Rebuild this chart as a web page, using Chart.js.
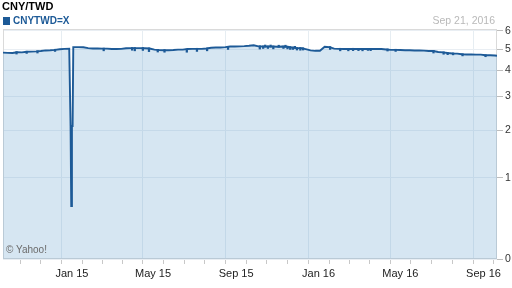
<!DOCTYPE html>
<html><head><meta charset="utf-8">
<script src="https://cdn.jsdelivr.net/npm/chart.js@4/dist/chart.umd.min.js"></script>
<style>
html,body{margin:0;padding:0;background:#fff;}
#wrap{position:relative;width:512px;height:288px;overflow:hidden;font-family:"Liberation Sans",Arial,sans-serif;}
canvas{position:absolute;left:0;top:0;}
.t{position:absolute;white-space:nowrap;line-height:1;}
</style></head><body>
<div id="wrap">
<canvas id="c" width="512" height="288"></canvas>
<div class="t" style="left:2px;top:0.5px;font-size:11px;font-weight:bold;color:#000">CNY/TWD</div>
<div style="position:absolute;left:3px;top:17px;width:7px;height:8px;background:#1d5a97"></div>
<div class="t" style="left:13px;top:15.5px;font-size:10px;font-weight:bold;color:#1d5a97">CNYTWD=X</div>
<div class="t" style="right:17px;top:14.5px;font-size:10.5px;color:#b9b9b9">Sep 21, 2016</div>
<div class="t" style="left:6px;top:245px;font-size:10px;color:#6b6b6b">© Yahoo!</div>
</div>
<script>
// ---------- data ----------
const startDate = '2014-09-21';
const endDate = '2016-09-21';
const dates = [
'2014-09-21','2014-09-28','2014-10-05','2014-10-12','2014-10-19','2014-10-26','2014-11-02','2014-11-09','2014-11-16','2014-11-23','2014-11-30','2014-12-07','2014-12-14','2014-12-21','2014-12-28','2014-12-29','2014-12-30','2014-12-31','2015-01-01','2015-01-02','2015-01-03',
'2015-01-04','2015-01-11','2015-01-18','2015-01-25','2015-02-01','2015-02-08','2015-02-15','2015-02-22','2015-03-01','2015-03-08','2015-03-15','2015-03-22','2015-03-29','2015-04-05','2015-04-12','2015-04-19','2015-04-26','2015-05-03','2015-05-10','2015-05-17','2015-05-24','2015-05-31','2015-06-07','2015-06-14','2015-06-21','2015-06-28','2015-07-05','2015-07-12','2015-07-19','2015-07-26','2015-08-02','2015-08-09','2015-08-16','2015-08-23','2015-08-30','2015-09-06','2015-09-13','2015-09-20','2015-09-27','2015-10-04','2015-10-11','2015-10-18','2015-10-25','2015-11-01','2015-11-08','2015-11-15','2015-11-22','2015-11-29','2015-12-06','2015-12-13','2015-12-20','2015-12-27',
'2016-01-03','2016-01-10','2016-01-17','2016-01-24','2016-01-31','2016-02-07','2016-02-14','2016-02-21','2016-02-28','2016-03-06','2016-03-13','2016-03-20','2016-03-27','2016-04-03','2016-04-10','2016-04-17','2016-04-24','2016-05-01','2016-05-08','2016-05-15','2016-05-22','2016-05-29','2016-06-05','2016-06-12','2016-06-19','2016-06-26','2016-07-03','2016-07-10','2016-07-17','2016-07-24','2016-07-31','2016-08-07','2016-08-14','2016-08-21','2016-08-28','2016-09-04','2016-09-11','2016-09-18','2016-09-21'];
const rates = [
4.82,4.81,4.80,4.84,4.83,4.86,4.87,4.88,4.90,4.93,4.94,4.96,4.99,5.01,5.02,5.02,2.11,0.57,2.11,2.11,5.10,
5.10,5.10,5.09,5.05,5.03,5.03,5.02,5.02,5.00,5.00,5.01,5.04,5.05,5.05,5.05,5.04,5.03,4.97,4.95,4.94,4.94,4.95,4.97,4.97,5.00,5.01,5.01,5.01,5.03,5.07,5.08,5.08,5.10,5.13,5.13,5.14,5.15,5.17,5.20,5.14,5.13,5.13,5.13,5.12,5.13,5.12,5.08,5.05,5.05,5.00,4.93,4.91,
4.91,5.12,5.10,5.02,5.01,5.00,5.00,5.01,5.00,5.00,5.00,5.00,5.01,5.00,4.98,4.96,4.96,4.95,4.94,4.94,4.93,4.93,4.92,4.90,4.90,4.85,4.83,4.80,4.78,4.77,4.74,4.73,4.73,4.72,4.72,4.69,4.69,4.68,4.67];
// single-day spikes off the line (from the line level to the spike tip)
const spikeDates = ['2014-10-11','2014-10-26','2014-11-11','2014-12-07','2015-02-17','2015-03-31','2015-04-04','2015-04-16','2015-04-25','2015-05-08','2015-05-18','2015-06-20','2015-07-05','2015-07-20','2015-08-20','2015-10-06','2015-10-11','2015-10-14','2015-10-18','2015-10-22','2015-10-26','2015-11-03','2015-11-10','2015-11-13','2015-11-16','2015-11-20','2015-11-24','2015-11-27','2015-11-30','2015-12-05','2015-12-09','2016-01-18','2016-02-02','2016-02-14','2016-02-21','2016-02-29','2016-03-06','2016-03-14','2016-03-18','2016-04-12','2016-04-24','2016-06-19','2016-07-04','2016-07-10','2016-07-18','2016-08-01','2016-09-04'];
const spikeFrom = [4.87,4.89,4.91,4.99,5.05,5.08,5.08,5.08,5.06,4.98,4.97,5.00,5.04,5.05,5.14,5.17,5.16,5.10,5.16,5.10,5.16,5.09,5.16,5.10,5.15,5.13,5.11,5.04,5.08,5.08,5.07,5.13,5.04,5.03,5.04,5.03,5.03,5.03,5.03,5.01,4.99,4.93,4.86,4.83,4.81,4.77,4.72];
const spikeTo   = [4.75,4.78,4.80,4.88,4.91,4.94,4.91,4.93,4.87,4.85,4.84,4.84,4.88,4.91,4.98,5.00,5.03,5.21,5.03,5.21,5.01,5.20,5.03,5.20,5.01,4.98,4.98,5.14,4.95,4.94,4.95,4.98,4.91,4.91,4.92,4.92,4.91,4.93,4.92,4.90,4.88,4.80,4.74,4.72,4.71,4.66,4.62];
const yTickValues = [0,1,2,3,4,5,6];
const xLabelDates = ['2015-01-01','2015-05-01','2015-09-01','2016-01-01','2016-05-01','2016-09-01'];
const xLabels = ['Jan 15','May 15','Sep 15','Jan 16','May 16','Sep 16'];

// ---------- helpers ----------
function dayOf(s){const p=s.split('-').map(Number);const q=startDate.split('-').map(Number);
  return (Date.UTC(p[0],p[1]-1,p[2])-Date.UTC(q[0],q[1]-1,q[2]))/86400000;}
const xMax = dayOf(endDate);
const monthDays = [];
for(let y=2014;y<=2016;y++)for(let m=1;m<=12;m++){const d=dayOf(y+'-'+String(m).padStart(2,'0')+'-01');if(d>0&&d<xMax)monthDays.push(d);}
const labelByDay = {}; xLabelDates.forEach((d,i)=>labelByDay[dayOf(d)]=xLabels[i]);

class Log1pScale extends Chart.LinearScale {
  buildTicks(){ return yTickValues.map(v=>({value:v})); }
  configure(){ super.configure(); this._s=Math.log1p(this.min); this._r=Math.log1p(this.max)-this._s; }
  getPixelForValue(v){ return this.getPixelForDecimal((Math.log1p(v)-this._s)/this._r); }
  getValueForPixel(p){ return Math.expm1(this._s+this.getDecimalForPixel(p)*this._r); }
}
Log1pScale.id='log1p';
Log1pScale.defaults=Chart.LinearScale.defaults;
Chart.register(Log1pScale);

const LINE='#1d5a97';
const borderPlugin={id:'plotBorder',beforeDatasetsDraw(chart){const {ctx,chartArea:a}=chart;ctx.save();ctx.strokeStyle='#dadada';ctx.lineWidth=1;
  ctx.strokeRect(Math.round(a.left)+0.5,Math.round(a.top)+0.5,Math.round(a.right-a.left)-1,Math.round(a.bottom-a.top)-1);ctx.restore();}};

new Chart(document.getElementById('c'),{
  type:'line',
  data:{datasets:[
    {type:'bar',order:0,data:spikeDates.map((d,i)=>({x:dayOf(d),y:[spikeTo[i],spikeFrom[i]]})),
     backgroundColor:LINE,borderWidth:0,barThickness:1.6,grouped:false},
    {type:'line',order:1,data:dates.map((d,i)=>({x:dayOf(d),y:rates[i]})),
     borderColor:LINE,borderWidth:1.9,pointRadius:0,tension:0,fill:'origin',
     backgroundColor:'rgba(90,155,203,0.25)'}
  ]},
  options:{
    responsive:false,animation:false,devicePixelRatio:1,
    layout:{padding:{top:29,left:3,right:0,bottom:0}},
    plugins:{legend:{display:false},tooltip:{enabled:false},title:{display:false}},
    scales:{
      x:{type:'linear',min:0,max:xMax,offset:false,
        afterBuildTicks:s=>{s.ticks=monthDays.map(v=>({value:v}));},
        afterFit:s=>{s.height=29;},
        ticks:{autoSkip:false,maxRotation:0,padding:3,color:'#222',font:{family:'"Liberation Sans",Arial,sans-serif',size:11},
          callback:v=>labelByDay[v]||''},
        grid:{color:c=>(c.tick&&labelByDay[c.tick.value])?'#e6edf2':'rgba(0,0,0,0)',tickColor:'#c8c8c8',tickLength:5,drawTicks:true},
        border:{display:false}},
      y:{type:'log1p',position:'right',min:0,max:6.12,
        afterFit:s=>{s.width=15;},
        ticks:{padding:2,color:'#333',font:{family:'"Liberation Sans",Arial,sans-serif',size:10.5},callback:v=>String(v)},
        grid:{color:'#e9eef3',tickColor:'#bdbdbd',tickLength:6},
        border:{display:false}}
    }
  },
  plugins:[borderPlugin]
});
</script>
</body></html>
